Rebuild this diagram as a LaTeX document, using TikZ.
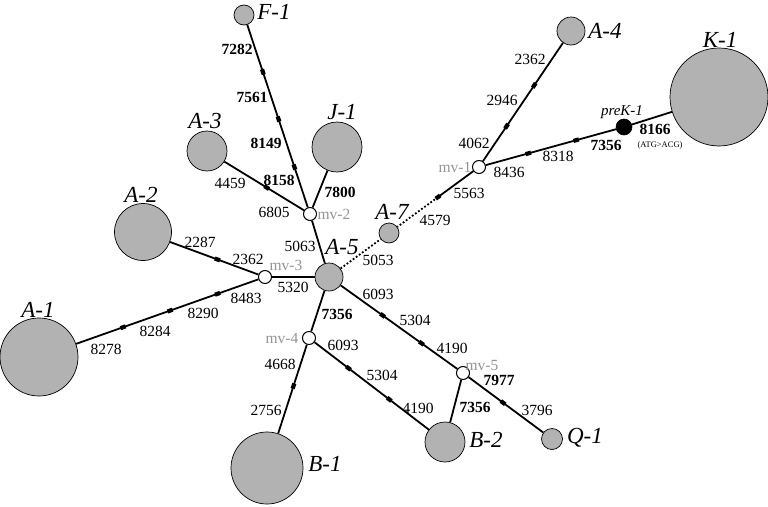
\documentclass[tikz,border=0pt]{standalone}
\usepackage{fontspec}
\setmainfont{Liberation Serif}
\begin{document}
\begin{tikzpicture}[x=1pt,y=-1pt,
  hap/.style={circle, draw, line width=0.7pt, fill=black!30, inner sep=0pt, minimum size=#1},
  mvn/.style={circle, draw, line width=1pt, fill=white, inner sep=0pt, minimum size=13pt},
  pre/.style={circle, draw, line width=0.6pt, fill=black, inner sep=0pt, minimum size=16pt},
  edge/.style={line width=1.8pt},
  dedge/.style={line width=1.8pt, dotted},
  tk/.style={fill=black, draw=none, minimum width=5.5pt, minimum height=4.2pt, inner sep=0pt, sloped},
  num/.style={font=\fontsize{15.5}{15.5}\selectfont, inner sep=0pt},
  bnum/.style={font=\fontsize{15.5}{15.5}\selectfont\bfseries, inner sep=0pt},
  lab/.style={font=\fontsize{23}{23}\selectfont\itshape, inner sep=0pt},
  mvl/.style={font=\fontsize{15.5}{15.5}\selectfont, text=black!42, inner sep=0pt},
  small/.style={font=\fontsize{8.5}{8.5}\selectfont, inner sep=0pt}
]
\useasboundingbox (0,0) rectangle (768,506);

% haplotype nodes
\node[hap=20pt] (F1) at (244,15) {};
\node[hap=50pt] (J1) at (337,147) {};
\node[hap=40pt] (A3) at (207,151) {};
\node[hap=57pt] (A2) at (143,232) {};
\node[hap=78pt] (A1) at (39,357) {};
\node[hap=28pt] (A5) at (329,277) {};
\node[hap=20pt] (A7) at (389,233) {};
\node[hap=28pt] (A4) at (571,31) {};
\node[hap=98pt] (K1) at (719,97) {};
\node[pre] (preK1) at (624,127) {};
\node[hap=72pt] (B1) at (267,468) {};
\node[hap=40pt] (B2) at (445,442) {};
\node[hap=21pt] (Q1) at (552,439) {};

% median vectors
\node[mvn] (mv1) at (479,167) {};
\node[mvn] (mv2) at (310,214) {};
\node[mvn] (mv3) at (265,277) {};
\node[mvn] (mv4) at (309,338) {};
\node[mvn] (mv5) at (463,373) {};

% edges
\draw[edge] (F1) -- (mv2);
\draw[edge] (A3) -- (mv2);
\draw[edge] (J1) -- (mv2);
\draw[edge] (mv2) -- (A5);
\draw[edge] (A2) -- (mv3);
\draw[edge] (A1) -- (mv3);
\draw[edge] (mv3) -- (A5);
\draw[dedge] (A5) -- (A7);
\path (mv1.center) -- (A7.center) coordinate[pos=0.456] (t17);
\draw[edge] (mv1) -- (t17);
\draw[dedge] (t17) -- (A7);
\draw[edge] (mv1) -- (A4);
\draw[edge] (mv1) -- (preK1);
\draw[edge] (preK1) -- (K1);
\draw[edge] (A5) -- (mv4);
\draw[edge] (mv4) -- (B1);
\draw[edge] (mv4) -- (B2);
\draw[edge] (A5) -- (mv5);
\draw[edge] (mv5) -- (B2);
\draw[edge] (mv5) -- (Q1);

% mutation ticks
\path (F1.center) -- (mv2.center) node[tk,pos=0.286]{} node[tk,pos=0.523]{} node[tk,pos=0.764]{};
\path (A3.center) -- (mv2.center) node[tk,pos=0.58]{};
\path (A2.center) -- (mv3.center) node[tk,pos=0.61]{};
\path (A1.center) -- (mv3.center) node[tk,pos=0.372]{} node[tk,pos=0.58]{} node[tk,pos=0.79]{};
\path (mv1.center) -- (A4.center) node[tk,pos=0.30]{} node[tk,pos=0.60]{};
\path (mv1.center) -- (preK1.center) node[tk,pos=0.34]{} node[tk,pos=0.67]{};
\path (mv1.center) -- (A7.center) node[tk,pos=0.456]{};
\path (mv4.center) -- (B1.center) node[tk,pos=0.37]{};
\path (mv4.center) -- (B2.center) node[tk,pos=0.29]{} node[tk,pos=0.59]{};
\path (A5.center) -- (mv5.center) node[tk,pos=0.40]{} node[tk,pos=0.69]{};
\path (mv5.center) -- (Q1.center) node[tk,pos=0.45]{};

% haplotype labels
\node[lab] (lF1) at (274,12) {F-1};
\node[lab] (lJ1) at (342,112) {J-1};
\node[lab] (lA3) at (205,121) {A-3};
\node[lab] (lA2) at (141,195) {A-2};
\node[lab] (lA1) at (38,310) {A-1};
\node[lab] (lA5) at (342,247) {A-5};
\node[lab] (lA7) at (392,212) {A-7};
\node[lab] (lA4) at (605,31) {A-4};
\node[lab] (lK1) at (720,40) {K-1};
\node[lab] (lB1) at (325,464) {B-1};
\node[lab] (lB2) at (486,440) {B-2};
\node[lab] (lQ1) at (585,438) {Q-1};
\node[font=\fontsize{15}{15}\selectfont\itshape, inner sep=0pt] (lpre) at (622,112) {preK-1};

% median vector labels
\node[mvl] (lmv1) at (455,167) {mv-1};
\node[mvl] (lmv2) at (334,214) {mv-2};
\node[mvl] (lmv3) at (286,265) {mv-3};
\node[mvl] (lmv4) at (282,338) {mv-4};
\node[mvl] (lmv5) at (482,365) {mv-5};

% mutation labels
\node[bnum] (n7282) at (237,49) {7282};
\node[bnum] (n7561) at (252,97) {7561};
\node[bnum] (n8149) at (266,143) {8149};
\node[bnum] (n8158) at (279,180) {8158};
\node[num] (n4459) at (230,183) {4459};
\node[num] (n6805) at (274,212) {6805};
\node[bnum] (n7800) at (340,192) {7800};
\node[num] (n2287) at (200,242) {2287};
\node[num] (n2362a) at (248,259) {2362};
\node[num] (n5320) at (293,287) {5320};
\node[num] (n8483) at (246,298) {8483};
\node[num] (n8290) at (203,313) {8290};
\node[num] (n8284) at (155,331) {8284};
\node[num] (n8278) at (106,349) {8278};
\node[num] (n5063) at (300,246) {5063};
\node[num] (n5053) at (378,260) {5053};
\node[num] (n2362b) at (530,59) {2362};
\node[num] (n2946) at (502,100) {2946};
\node[num] (n4062) at (474,143) {4062};
\node[num] (n8436) at (509,172) {8436};
\node[num] (n8318) at (558,156) {8318};
\node[bnum] (n7356a) at (606,145) {7356};
\node[bnum] (n8166) at (655,129) {8166};
\node[small] (nATG) at (660,145) {(ATG>ACG)};
\node[num] (n5563) at (469,193) {5563};
\node[num] (n4579) at (435,220) {4579};
\node[bnum] (n7356b) at (337,314) {7356};
\node[num] (n6093a) at (343,345) {6093};
\node[num] (n5304a) at (382,375) {5304};
\node[num] (n4190a) at (418,408) {4190};
\node[num] (n4668) at (280,364) {4668};
\node[num] (n2756) at (266,410) {2756};
\node[num] (n6093b) at (378,294) {6093};
\node[num] (n5304b) at (415,320) {5304};
\node[num] (n4190b) at (452,348) {4190};
\node[bnum] (n7977) at (499,380) {7977};
\node[bnum] (n7356c) at (475,407) {7356};
\node[num] (n3796) at (537,410) {3796};
\end{tikzpicture}
\end{document}
